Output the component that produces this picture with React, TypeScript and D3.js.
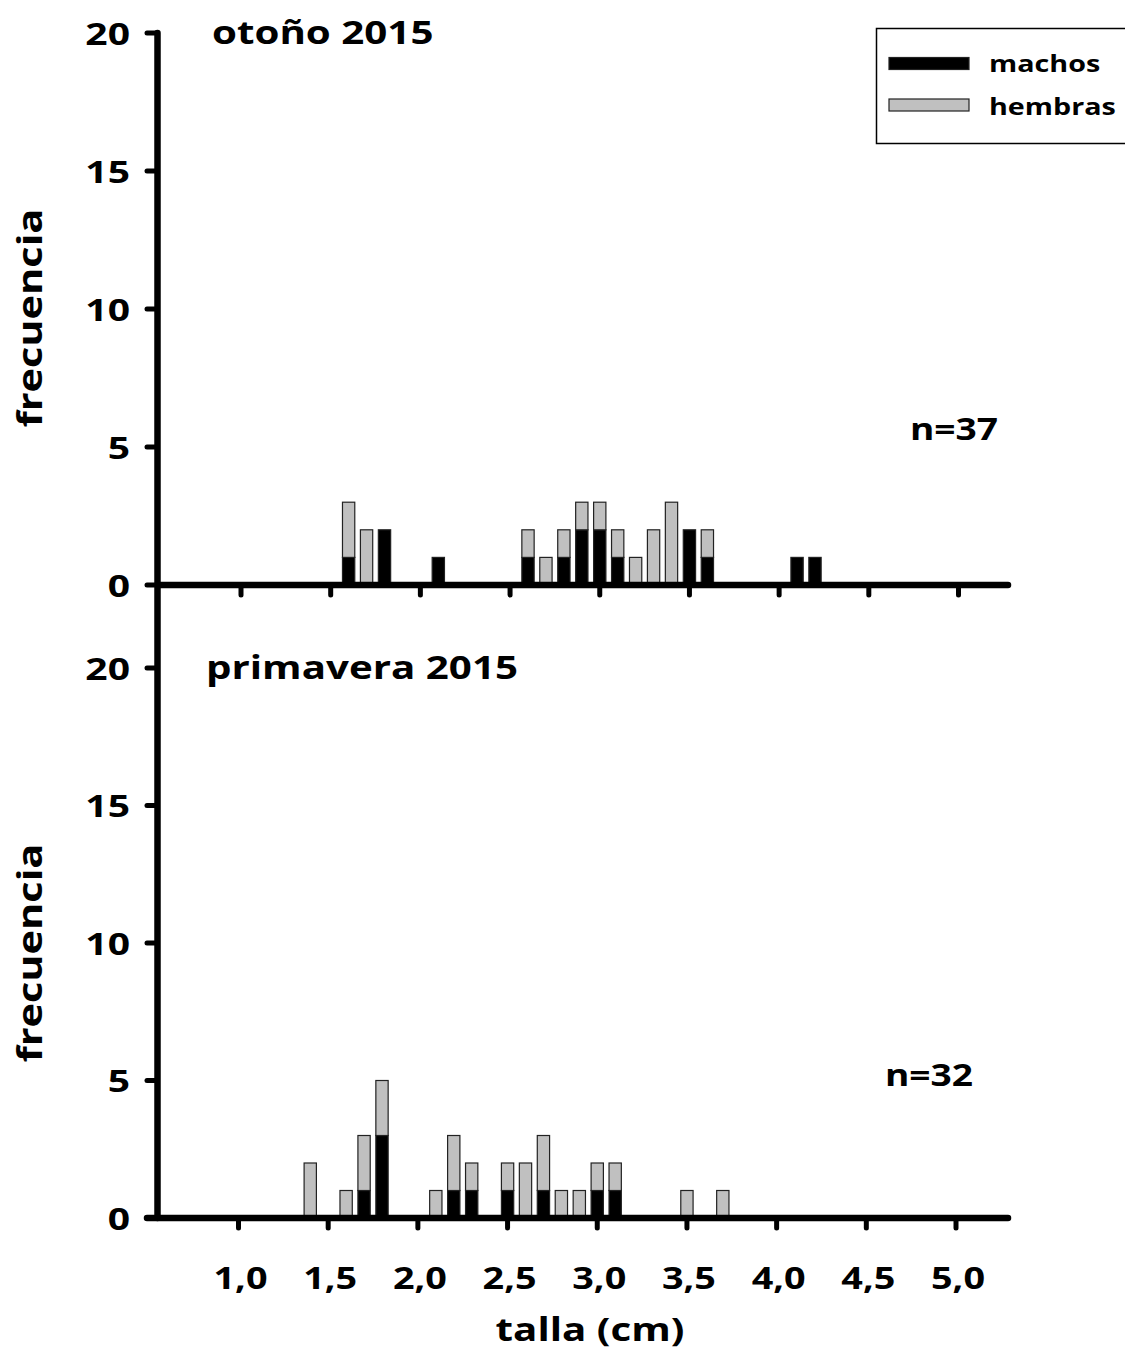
import React from "react";
import * as d3 from "d3";

const tallaOtono = [1.6, 1.7, 1.8, 2.1, 2.6, 2.7, 2.8, 2.9, 3.0, 3.1, 3.2, 3.3, 3.4, 3.5, 3.6, 4.1, 4.2];
const machosOtono = [1, 0, 2, 1, 1, 0, 1, 2, 2, 1, 0, 0, 0, 2, 1, 1, 1];
const hembrasOtono = [2, 2, 0, 0, 1, 1, 1, 1, 1, 1, 1, 2, 3, 0, 1, 0, 0];

const tallaPrimavera = [1.4, 1.6, 1.7, 1.8, 2.1, 2.2, 2.3, 2.5, 2.6, 2.7, 2.8, 2.9, 3.0, 3.1, 3.5, 3.7];
const machosPrimavera = [0, 0, 1, 3, 0, 1, 1, 1, 0, 1, 0, 0, 1, 1, 0, 0];
const hembrasPrimavera = [2, 1, 2, 2, 1, 2, 1, 1, 2, 2, 1, 1, 1, 1, 1, 1];

const xTicks = [1.0, 1.5, 2.0, 2.5, 3.0, 3.5, 4.0, 4.5, 5.0];
const yTicks = [0, 5, 10, 15, 20];
const seriesKeys = ["machos", "hembras"];
const seriesColors = ["#000000", "#c0c0c0"];

const FONT = "'Open Sans', sans-serif";
const SX = 1.26;

type TProps = {
  x: number;
  y: number;
  size: number;
  anchor?: "start" | "middle" | "end";
  rotate?: number;
  sx?: number;
  children: React.ReactNode;
};

function T({ x, y, size, anchor = "start", rotate = 0, sx = SX, children }: TProps) {
  return (
    <text
      transform={`translate(${x},${y}) rotate(${rotate}) scale(${sx},1)`}
      dy="0.35em"
      textAnchor={anchor}
      fontSize={size}
      fontWeight={700}
      fontFamily={FONT}
      fill="#000"
    >
      {children}
    </text>
  );
}

type PanelProps = {
  talla: number[];
  machos: number[];
  hembras: number[];
  title: string;
  nLabel: string;
  xRange: [number, number];
  yRange: [number, number];
  titleX: number;
  nX: number;
  nY: number;
  axisLeft: number;
  labelY: number;
};

function Panel(p: PanelProps) {
  const x = d3.scaleLinear().domain([1, 5]).range(p.xRange);
  const y = d3.scaleLinear().domain([0, 20]).range(p.yRange);
  const rows = p.talla.map((t, i) => ({ talla: t, machos: p.machos[i], hembras: p.hembras[i] }));
  const stacked = d3.stack<any>().keys(seriesKeys)(rows);
  const bw = 12.3;
  const y0 = y(0);
  return (
    <g>
      {stacked.map((layer, li) =>
        layer.map((d, i) =>
          d[1] - d[0] > 0 ? (
            <rect
              key={`${li}-${i}`}
              x={x(d.data.talla) - bw / 2}
              y={y(d[1])}
              width={bw}
              height={y(d[0]) - y(d[1])}
              fill={seriesColors[li]}
              stroke="#222"
              strokeWidth={1.2}
            />
          ) : null
        )
      )}
      <line x1={p.axisLeft} x2={1008} y1={y0} y2={y0} stroke="#000" strokeWidth={6.5} strokeLinecap="round" />
      {xTicks.map((t) => (
        <line key={t} x1={x(t)} x2={x(t)} y1={y0} y2={y0 + 10} stroke="#000" strokeWidth={5} strokeLinecap="round" />
      ))}
      {yTicks.map((t) => (
        <g key={t}>
          <line x1={147} x2={157} y1={y(t)} y2={y(t)} stroke="#000" strokeWidth={5} strokeLinecap="round" />
          <T x={130} y={y(t) + 1} size={31} anchor="end">
            {t}
          </T>
        </g>
      ))}
      <T x={p.titleX} y={p.yRange[1]} size={32}>
        {p.title}
      </T>
      <T x={p.nX} y={p.nY} size={29.5} anchor="middle">
        {p.nLabel}
      </T>
      <T x={30} y={p.labelY} size={34} anchor="middle" rotate={-90} sx={1.22}>
        frecuencia
      </T>
    </g>
  );
}

export default function App() {
  const xb = d3.scaleLinear().domain([1, 5]).range([238.5, 956]);
  return (
    <svg width={1125} height={1354} style={{ position: "absolute", left: 0, top: 0, background: "#fff" }}>
      <rect x={0} y={0} width={1125} height={1354} fill="#fff" />
      <Panel
        talla={tallaOtono}
        machos={machosOtono}
        hembras={hembrasOtono}
        title="otoño 2015"
        nLabel="n=37"
        xRange={[241, 958.5]}
        yRange={[585, 33]}
        titleX={212}
        nX={954}
        nY={430}
        axisLeft={158}
        labelY={318}
      />
      <Panel
        talla={tallaPrimavera}
        machos={machosPrimavera}
        hembras={hembrasPrimavera}
        title="primavera 2015"
        nLabel="n=32"
        xRange={[238.5, 956]}
        yRange={[1218, 668]}
        titleX={206}
        nX={929}
        nY={1076}
        axisLeft={147}
        labelY={953}
      />
      <line x1={157.5} x2={157.5} y1={33} y2={1218} stroke="#000" strokeWidth={6.5} strokeLinecap="round" />
      {xTicks.map((t) => (
        <T key={t} x={xb(t) + 2} y={1278} size={30} anchor="middle">
          {d3.format(".1f")(t).replace(".", ",")}
        </T>
      ))}
      <T x={590} y={1330} size={32} anchor="middle">
        talla (cm)
      </T>
      <rect x={876.5} y={28.5} width={260} height={115} fill="#fff" stroke="#000" strokeWidth={1.5} />
      {seriesKeys.map((k, i) => (
        <g key={k}>
          <rect
            x={889}
            y={i === 0 ? 57.5 : 99}
            width={80}
            height={12}
            fill={seriesColors[i]}
            stroke="#222"
            strokeWidth={1.2}
          />
          <T x={989} y={i === 0 ? 64 : 107} size={22.8}>
            {k}
          </T>
        </g>
      ))}
    </svg>
  );
}
